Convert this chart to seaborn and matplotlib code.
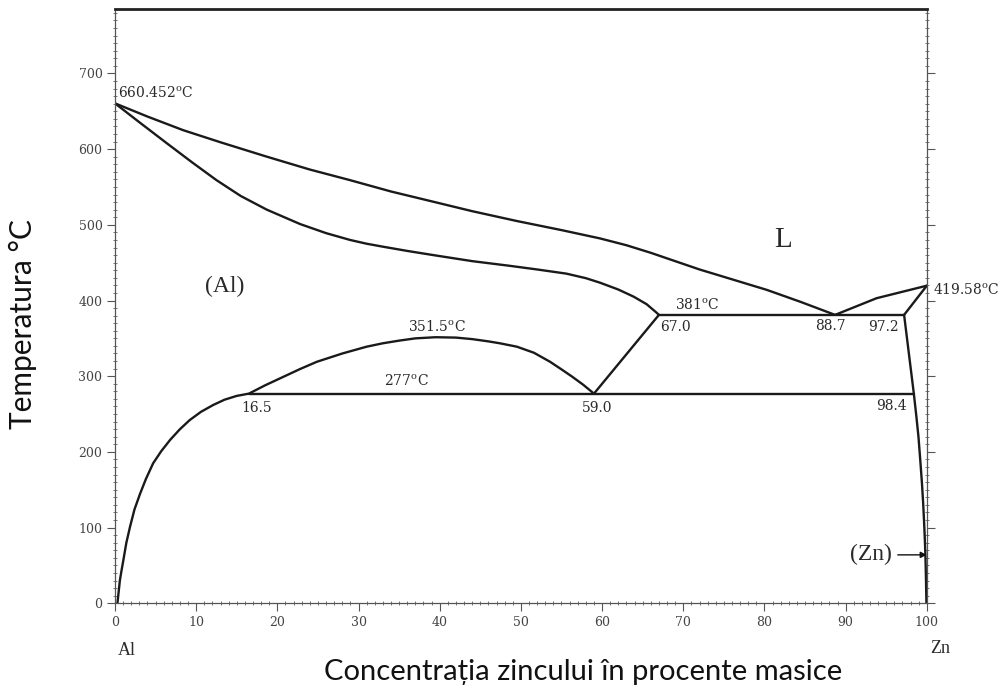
import numpy as np
import pandas as pd
import matplotlib
matplotlib.use("Agg")
import matplotlib.pyplot as plt
import seaborn as sns
from matplotlib.ticker import MultipleLocator

# ---- data (at.% Zn, temperature °C) ----
liq_al_x = [0, 4, 8.4, 13, 18.7, 24, 28.95, 34, 39.2, 44, 49.5, 55, 59.75, 63, 66, 69, 72,
            76, 80.3, 84.5, 88.7]
liq_al_t = [660.452, 643, 625, 609, 590, 573, 559, 544, 530.5, 518, 505, 493, 482, 473, 463,
            452, 441, 428, 414, 398, 381]

sol_al_x = [0, 3, 6.4, 9.5, 12.5, 15.5, 18.7, 22.8, 26, 28.95, 31, 33.05, 36, 39.2, 44, 48.5,
            52, 55.6, 58, 59.75, 62, 63.9, 65.5, 66.7, 67.0]
sol_al_t = [660.452, 635.5, 607.6, 582.5, 559, 538, 520, 501, 489, 480, 475, 471, 465.5, 460,
            452, 446, 441, 435.5, 429.5, 423.5, 414.5, 405, 395, 384, 381]

solvus_x = [0.3, 0.45, 0.6, 0.8, 1.0, 1.4, 1.85, 2.4, 3.1, 3.8, 4.7, 5.7, 6.8, 8.0, 9.2, 10.6,
            12.1, 13.5, 15.0, 16.5, 18.5, 20.7, 22.8, 24.85, 28, 31, 33, 35, 37, 39.5, 42, 44,
            46, 47.4, 49.5, 51.6, 53.6, 55, 56.3, 57.7, 59.0]
solvus_t = [0, 15, 30, 43, 55, 80, 101, 124, 145, 164, 185, 201, 216, 230, 242, 253,
            262, 269, 274, 277, 288, 299, 309.5, 319, 330, 339, 343.5, 347, 350, 351.5, 351, 349,
            346, 343.5, 339, 331, 319, 309, 299.5, 288.5, 277]

gap_x = [59.0, 67.0]
gap_t = [277, 381]

eut_x = [67.0, 97.2]
eut_t = [381, 381]

mono_x = [16.5, 98.4]
mono_t = [277, 277]

liq_zn_x = [88.7, 93.8, 100]
liq_zn_t = [381, 403, 419.58]

sol_zn_x = [97.2, 100]
sol_zn_t = [381, 419.58]

solvus_zn_x = [97.2, 98.4, 98.7, 98.97, 99.2, 99.4, 99.55, 99.67, 99.76, 99.83, 99.9, 99.95]
solvus_zn_t = [381, 277, 248, 220, 188, 158.5, 132, 105.7, 83, 61.6, 30, 0]

x_ticks = [0, 10, 20, 30, 40, 50, 60, 70, 80, 90, 100]
y_ticks = [0, 100, 200, 300, 400, 500, 600, 700]

segments = {
    "liq_al": (liq_al_x, liq_al_t),
    "sol_al": (sol_al_x, sol_al_t),
    "solvus": (solvus_x, solvus_t),
    "gap": (gap_x, gap_t),
    "eut": (eut_x, eut_t),
    "mono": (mono_x, mono_t),
    "liq_zn": (liq_zn_x, liq_zn_t),
    "sol_zn": (sol_zn_x, sol_zn_t),
    "solvus_zn": (solvus_zn_x, solvus_zn_t),
}
rows = []
for name, (xs, ts) in segments.items():
    for i, (xv, tv) in enumerate(zip(xs, ts)):
        rows.append({"seg": name, "order": i, "x": xv, "t": tv})
df = pd.DataFrame(rows)

sns.set_style("white")
plt.rcParams["mathtext.fontset"] = "dejavuserif"

fig = plt.figure(figsize=(10.06, 6.91), dpi=100)
ax = fig.add_axes([0.1143, 0.1269, 0.807, 0.860])

sns.lineplot(data=df, x="x", y="t", units="seg", estimator=None, sort=False,
             color="#1a1a1a", linewidth=1.7, ax=ax, legend=False)
for ln in ax.get_lines():
    ln.set_solid_joinstyle("round")

ax.set_xlim(0, 100)
ax.set_ylim(0, 785)
ax.set_xticks(x_ticks)
ax.set_yticks(y_ticks)
ax.xaxis.set_minor_locator(MultipleLocator(1))
ax.yaxis.set_minor_locator(MultipleLocator(10))
ax.set_xlabel("")
ax.set_ylabel("")

serif = "DejaVu Serif"
for lab in ax.get_xticklabels() + ax.get_yticklabels():
    lab.set_family(serif)
    lab.set_fontsize(9)
    lab.set_color("#444444")

ax.tick_params(which="major", direction="out", length=6, width=0.8, color="#555555",
               left=True, bottom=True, right=True, top=False, pad=3)
ax.tick_params(which="minor", direction="inout", length=3, width=0.7, color="#777777",
               left=True, bottom=True, right=True, top=False)
ax.tick_params(axis="y", which="both", labelright=False)

for s in ["left", "bottom", "right"]:
    ax.spines[s].set_color("#555555")
    ax.spines[s].set_linewidth(0.9)
ax.spines["top"].set_color("#222222")
ax.spines["top"].set_linewidth(2.0)

tc = "#2a2a2a"
fs = 10
deg = r"$^{\mathrm{o}}$C"
ax.text(0.37, 674, "660.452" + deg, family=serif, fontsize=fs, color=tc, ha="left", va="center")
ax.text(13.55, 419, "(Al)", family="Liberation Serif", fontsize=17, color=tc, ha="center", va="center")
ax.text(82.3, 480, "L", family="Liberation Serif", fontsize=21, color=tc, ha="center", va="center")
ax.text(71.7, 394, "381" + deg, family=serif, fontsize=fs, color=tc, ha="center", va="center")
ax.text(69.0, 365, "67.0", family=serif, fontsize=fs, color=tc, ha="center", va="center")
ax.text(88.1, 366, "88.7", family=serif, fontsize=fs, color=tc, ha="center", va="center")
ax.text(94.7, 365, "97.2", family=serif, fontsize=fs, color=tc, ha="center", va="center")
ax.text(39.7, 365, "351.5" + deg, family=serif, fontsize=fs, color=tc, ha="center", va="center")
ax.text(35.85, 292.5, "277" + deg, family=serif, fontsize=fs, color=tc, ha="center", va="center")
ax.text(17.5, 258, "16.5", family=serif, fontsize=fs, color=tc, ha="center", va="center")
ax.text(59.4, 258, "59.0", family=serif, fontsize=fs, color=tc, ha="center", va="center")
ax.text(95.6, 260.7, "98.4", family=serif, fontsize=fs, color=tc, ha="center", va="center")
ax.text(100.8, 413, "419.58" + deg, family=serif, fontsize=fs, color=tc, ha="left", va="center",
        clip_on=False)
ax.annotate("(Zn)", xy=(100, 64), xytext=(93.1, 64), family="Liberation Serif", fontsize=17,
            color=tc, ha="center", va="center",
            arrowprops=dict(arrowstyle="-|>", color="#111111", lw=1.0, shrinkA=2, shrinkB=0,
                            mutation_scale=9))

fig.text(0.126, 0.0593, "Al", family="Liberation Serif", fontsize=13, color=tc, ha="center", va="center")
fig.text(0.935, 0.0622, "Zn", family="Liberation Serif", fontsize=13, color=tc, ha="center", va="center")
fig.text(0.5795, 0.0275, "Concentrația zincului în procente masice", family="Lato",
         fontsize=21, color="#111111", ha="center", va="center")
fig.text(0.0229, 0.531, "Temperatura °C", family="Lato", fontsize=21.5,
         color="#111111", ha="center", va="center", rotation=90)

fig.savefig("out.png", dpi=100)
